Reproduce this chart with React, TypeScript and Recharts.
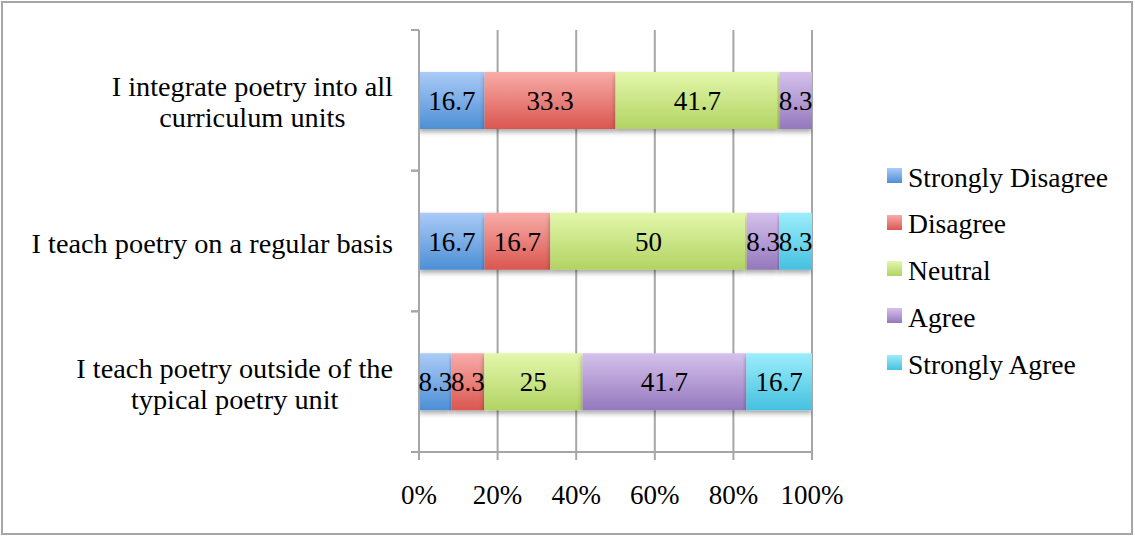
import { BarChart, Bar, XAxis, YAxis, CartesianGrid, LabelList, Legend, Rectangle } from 'recharts';

const categories = [
  'I integrate poetry into all curriculum units',
  'I teach poetry on a regular basis',
  'I teach poetry outside of the typical poetry unit',
];

const seriesNames = ['Strongly Disagree', 'Disagree', 'Neutral', 'Agree', 'Strongly Agree'];

const stronglyDisagree = [16.7, 16.7, 8.3];
const disagree = [33.3, 16.7, 8.3];
const neutral = [41.7, 50, 25];
const agree = [8.3, 8.3, 41.7];
const stronglyAgree = [0, 8.3, 16.7];

const xTicks = [0, 20, 40, 60, 80, 100];

const seriesValues = [stronglyDisagree, disagree, neutral, agree, stronglyAgree];
const keys = ['sd', 'd', 'n', 'a', 'sa'];
const gradients = [
  ['#aacbf7', '#4d8fd5'],
  ['#f9aca8', '#da5650'],
  ['#e3f7ab', '#b2d363'],
  ['#d5c1ec', '#9478bd'],
  ['#9cedfb', '#45c1df'],
];

const data = categories.map((name, i) => {
  const row: Record<string, any> = { name };
  keys.forEach((k, j) => (row[k] = seriesValues[j][i]));
  return row;
});

const FONT = "'Liberation Serif', 'Times New Roman', serif";
const FS = 27;
const CAT_FS = 28.3;
const LEG_FS = 27.6;
const GRID = '#a6a6a6';
const PLOT_TOP = 30;
const PLOT_BOTTOM = 452;
const HALF_BAND = (PLOT_BOTTOM - PLOT_TOP) / categories.length / 2;

let ctx: CanvasRenderingContext2D | null = null;
const measure = (s: string) => {
  if (!ctx) {
    ctx = document.createElement('canvas').getContext('2d');
    if (ctx) ctx.font = `${CAT_FS}px ${FONT}`;
  }
  return ctx ? ctx.measureText(s).width : s.length * CAT_FS * 0.45;
};

const wrap = (s: string, maxW: number) => {
  const words = s.split(' ');
  const lines: string[] = [];
  let cur = '';
  words.forEach((w) => {
    const t = cur ? cur + ' ' + w : w;
    if (cur && measure(t) > maxW) {
      lines.push(cur);
      cur = w;
    } else cur = t;
  });
  if (cur) lines.push(cur);
  return lines;
};

const CategoryTick = (props: any) => {
  const { x, y, payload } = props;
  const lines = wrap(String(payload.value), 380);
  const widest = Math.max(...lines.map(measure));
  const cx = x - 26 - widest / 2;
  const lh = 31;
  return (
    <g>
      {lines.map((ln, i) => (
        <text
          key={i}
          x={cx}
          y={y + (i - (lines.length - 1) / 2) * lh + 2}
          textAnchor="middle"
          dominantBaseline="central"
          fontFamily={FONT}
          fontSize={CAT_FS}
          fill="#000"
        >
          {ln}
        </text>
      ))}
      <line x1={x - 8} x2={x} y1={y - HALF_BAND} y2={y - HALF_BAND} stroke={GRID} strokeWidth={2} />
      <line x1={x - 8} x2={x} y1={y + HALF_BAND} y2={y + HALF_BAND} stroke={GRID} strokeWidth={2} />
    </g>
  );
};

const ShadowBar = (props: any) => <Rectangle {...props} filter="url(#barShadow)" />;

const LegendContent = () => (
  <div style={{ fontFamily: FONT, fontSize: LEG_FS, color: '#000' }}>
    {seriesNames.map((n, i) => (
      <div key={n} style={{ display: 'flex', alignItems: 'center', height: 46.8 }}>
        <div
          style={{
            width: 15,
            height: 15,
            marginRight: 6,
            background: `linear-gradient(${gradients[i][0]}, ${gradients[i][1]})`,
          }}
        />
        <span style={{ lineHeight: 1, whiteSpace: 'nowrap', position: 'relative', top: 2 }}>{n}</span>
      </div>
    ))}
  </div>
);

export default function App() {
  return (
    <div style={{ position: 'absolute', left: 0, top: 0, width: 1135, height: 537, background: '#fff', fontFamily: FONT }}>
      <BarChart
        width={1135}
        height={537}
        data={data}
        layout="vertical"
        margin={{ top: PLOT_TOP, right: 323, bottom: 0, left: 0 }}
        barSize={57}
      >
        <defs>
          {gradients.map((g, i) => (
            <linearGradient key={i} id={`grad${i}`} x1="0" y1="0" x2="0" y2="1">
              <stop offset="0%" stopColor={g[0]} />
              <stop offset="100%" stopColor={g[1]} />
            </linearGradient>
          ))}
          <filter id="barShadow" x="-5%" y="-20%" width="110%" height="150%">
            <feDropShadow dx="0" dy="3" stdDeviation="2.5" floodColor="#000" floodOpacity="0.35" />
          </filter>
        </defs>
        <CartesianGrid horizontal={false} stroke={GRID} strokeWidth={2} />
        <XAxis
          type="number"
          domain={[0, 100]}
          allowDataOverflow
          ticks={xTicks}
          tickFormatter={(v) => `${v}%`}
          height={537 - PLOT_BOTTOM}
          axisLine={{ stroke: GRID, strokeWidth: 2 }}
          tickLine={{ stroke: GRID, strokeWidth: 2 }}
          tickSize={8}
          tickMargin={25}
          tick={{ fill: '#000', fontSize: FS, fontFamily: FONT }}
          interval={0}
        />
        <YAxis
          type="category"
          dataKey="name"
          width={419}
          axisLine={{ stroke: GRID, strokeWidth: 2 }}
          tickLine={false}
          tickSize={0}
          tickMargin={0}
          tick={<CategoryTick />}
          interval={0}
        />
        <Legend
          layout="vertical"
          align="center"
          verticalAlign="middle"
          wrapperStyle={{ left: 887, top: 152, width: 240 }}
          content={<LegendContent />}
        />
        {keys.map((k, i) => (
          <Bar
            key={k}
            dataKey={k}
            name={seriesNames[i]}
            stackId="s"
            fill={`url(#grad${i})`}
            shape={<ShadowBar />}
            isAnimationActive={false}
          >
            <LabelList
              dataKey={k}
              position="center"
              formatter={(v: any) => (v ? v : '')}
              fill="#000"
              fontSize={FS}
              fontFamily={FONT}
            />
          </Bar>
        ))}
      </BarChart>
      <div
        style={{
          position: 'absolute',
          left: 1,
          top: 1,
          width: 1132,
          height: 534,
          border: `2px solid ${GRID}`,
          boxSizing: 'border-box',
          pointerEvents: 'none',
        }}
      />
    </div>
  );
}
